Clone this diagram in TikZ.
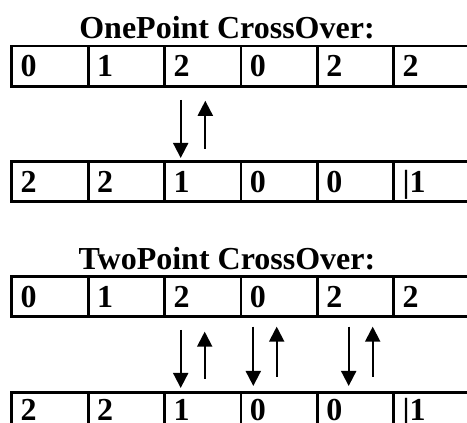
\documentclass[tikz,border=0pt]{standalone}
\usepackage{fontspec}
\setmainfont{Liberation Serif}
\usepackage{tikz}
\usetikzlibrary{arrows.meta}

\begin{document}
\begin{tikzpicture}[x=1pt, y=-1pt,
          cell/.style={draw, line width=2.8pt, outer sep=0pt,
                       minimum width=76.4pt, minimum height=40.3pt,
                       text width=58.4pt, inner xsep=9pt, align=left,
                       text height=21.6pt, text depth=0pt,
                       font=\fontsize{32}{32}\selectfont\bfseries},
          lowcell/.style={cell, text depth=4.6pt},
          ttl/.style={anchor=base, font=\fontsize{32}{32}\selectfont\bfseries},
          arr/.style={-{Triangle[width=15pt, length=15pt]}, line width=2pt}
        ]
        \clip (0,0) rectangle (467,423);

        % one point crossover
        \node[ttl] (title1) at (227,38.5) {OnePoint CrossOver:};

        \node[cell] (a1) at (49.9,66.2)  {0};
        \node[cell] (a2) at (126.3,66.2) {1};
        \node[cell] (a3) at (202.7,66.2) {2};
        \node[cell] (a4) at (279.1,66.2) {0};
        \node[cell] (a5) at (355.5,66.2) {2};
        \node[cell] (a6) at (431.9,66.2) {2};

        \node[cell] (b1) at (49.9,181.5)  {2};
        \node[cell] (b2) at (126.3,181.5) {2};
        \node[cell] (b3) at (202.7,181.5) {1};
        \node[cell] (b4) at (279.1,181.5) {0};
        \node[cell] (b5) at (355.5,181.5) {0};
        \node[cell] (b6) at (431.9,181.5) {|1};

        \draw[arr] ([xshift=-22pt, yshift=-13.6pt]a3.south)
              -- ([xshift=-22pt, yshift=3.4pt]b3.north);
        \draw[arr] ([xshift=2.6pt, yshift=12.4pt]b3.north)
              -- ([xshift=2.6pt, yshift=-14.4pt]a3.south);

        % two point crossover
        \node[ttl] (title2) at (227,269) {TwoPoint CrossOver:};

        \node[cell] (c1) at (49.9,296.3)  {0};
        \node[cell] (c2) at (126.3,296.3) {1};
        \node[cell] (c3) at (202.7,296.3) {2};
        \node[cell] (c4) at (279.1,296.3) {0};
        \node[cell] (c5) at (355.5,296.3) {2};
        \node[cell] (c6) at (431.9,296.3) {2};

        \node[lowcell] (d1) at (49.9,412.3)  {2};
        \node[lowcell] (d2) at (126.3,412.3) {2};
        \node[lowcell] (d3) at (202.7,412.3) {1};
        \node[lowcell] (d4) at (279.1,412.3) {0};
        \node[lowcell] (d5) at (355.5,412.3) {0};
        \node[lowcell] (d6) at (431.9,412.3) {|1};

        \draw[arr] ([xshift=-22pt, yshift=-13.5pt]c3.south)
              -- ([xshift=-22pt, yshift=4.2pt]d3.north);
        \draw[arr] ([xshift=2pt, yshift=13.2pt]d3.north)
              -- ([xshift=2pt, yshift=-15.2pt]c3.south);
        \draw[arr] ([xshift=-25.8pt, yshift=-10.2pt]c4.south)
              -- ([xshift=-25.8pt, yshift=6.2pt]d4.north);
        \draw[arr] ([xshift=-2.4pt, yshift=15.4pt]d4.north)
              -- ([xshift=-2.4pt, yshift=-10.2pt]c4.south);
        \draw[arr] ([xshift=-6.8pt, yshift=-10.2pt]c5.south)
              -- ([xshift=-6.8pt, yshift=6.2pt]d5.north);
        \draw[arr] ([xshift=17.2pt, yshift=15.4pt]d5.north)
              -- ([xshift=17.2pt, yshift=-10.2pt]c5.south);
      \end{tikzpicture}
\end{document}
